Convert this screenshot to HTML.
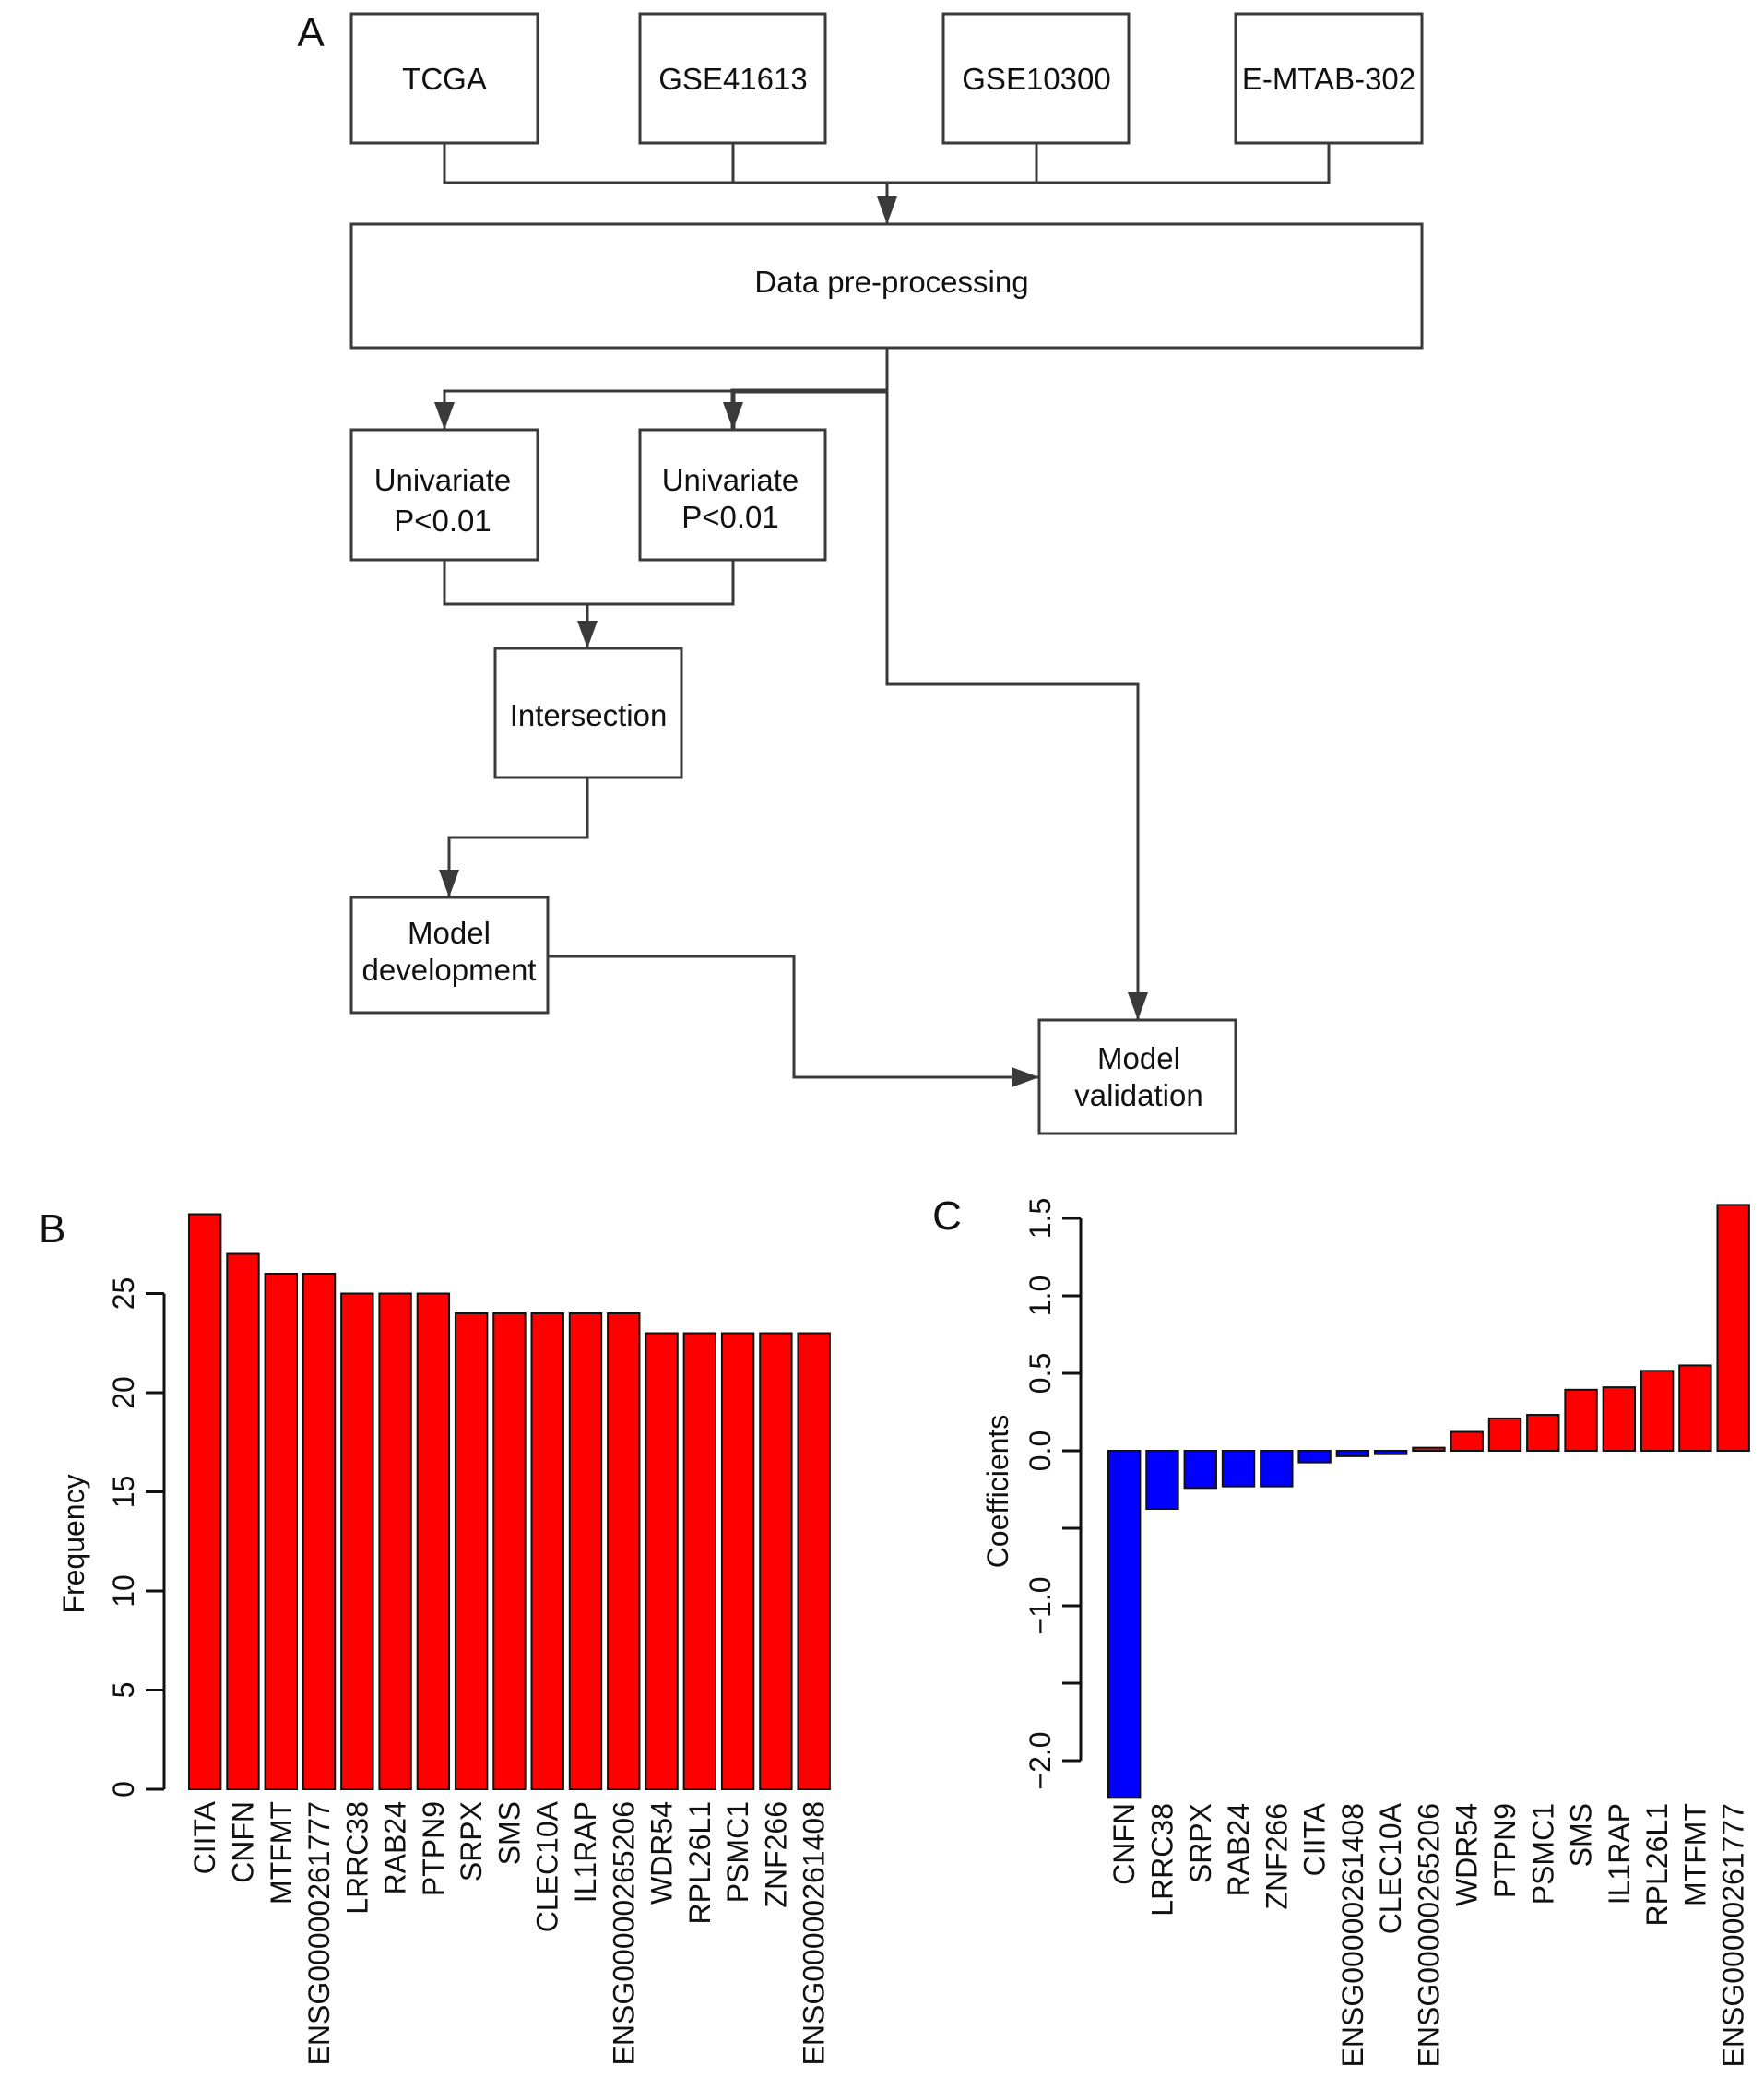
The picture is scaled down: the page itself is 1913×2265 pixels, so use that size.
<!DOCTYPE html>
<html><head><meta charset="utf-8"><title>Figure</title>
<style>
html,body{margin:0;padding:0;background:#fff;}
svg{display:block;font-family:"Liberation Sans",Arial,sans-serif;}
</style></head>
<body>
<svg id="fig" width="1913" height="2265" viewBox="0 0 1913 2265" xmlns="http://www.w3.org/2000/svg">
<defs>
<marker id="arr" viewBox="0 0 10 10" refX="10" refY="5" markerWidth="30" markerHeight="22" markerUnits="userSpaceOnUse" orient="auto" preserveAspectRatio="none">
<path d="M0,0 L10,5 L0,10 z" fill="#3a3a3a"/>
</marker>
</defs>
<g id="flow" stroke="#3a3a3a" stroke-width="3" fill="none">
<text x="337" y="50" font-size="44" fill="#111" stroke="none" text-anchor="middle">A</text>
<rect x="381" y="15" width="202" height="140"/>
<rect x="694" y="15" width="201" height="140"/>
<rect x="1023" y="15" width="201" height="140"/>
<rect x="1340" y="15" width="202" height="140"/>
<rect x="381" y="243" width="1161" height="134"/>
<rect x="381" y="466" width="202" height="141"/>
<rect x="694" y="466" width="201" height="141"/>
<rect x="537" y="703" width="202" height="140"/>
<rect x="381" y="973" width="213" height="125"/>
<rect x="1127" y="1106" width="213" height="123"/>
<path d="M482,155 V198 H1441 V155 M795,155 V198 M1124,155 V198"/>
<path d="M962,198 V243" marker-end="url(#arr)"/>
<path d="M962,377 V742 H1234 V1106" marker-end="url(#arr)"/>
<path d="M962,424 H482 V466" marker-end="url(#arr)"/>
<path d="M962,424 H795 V466" stroke-width="5" marker-end="url(#arr)"/>
<path d="M482,607 V655 H795 V607"/>
<path d="M637,655 V703" marker-end="url(#arr)"/>
<path d="M637,843 V908 H487 V973" marker-end="url(#arr)"/>
<path d="M594,1037 H861 V1168 H1127" marker-end="url(#arr)"/>
<g fill="#111" stroke="none" font-size="33" text-anchor="middle">
<text x="482" y="97">TCGA</text>
<text x="795" y="97">GSE41613</text>
<text x="1124" y="97">GSE10300</text>
<text x="1441" y="97">E-MTAB-302</text>
<text x="967" y="317">Data pre-processing</text>
<text x="480" y="532">Univariate</text>
<text x="480" y="576">P&lt;0.01</text>
<text x="792" y="532">Univariate</text>
<text x="792" y="572">P&lt;0.01</text>
<text x="638" y="787">Intersection</text>
<text x="487" y="1023">Model</text>
<text x="487" y="1063">development</text>
<text x="1235" y="1159">Model</text>
<text x="1235" y="1199">validation</text>
</g>
</g>
<g id="chartB"></g>
<g id="chartC"></g>
</svg>
<script>
const bCategories = ["CIITA","CNFN","MTFMT","ENSG00000261777","LRRC38","RAB24","PTPN9","SRPX","SMS","CLEC10A","IL1RAP","ENSG00000265206","WDR54","RPL26L1","PSMC1","ZNF266","ENSG00000261408"];
const bValues = [29,27,26,26,25,25,25,24,24,24,24,24,23,23,23,23,23];
const bTicks = [0,5,10,15,20,25];
const bTickLabels = ["0","5","10","15","20","25"];

const cCategories = ["CNFN","LRRC38","SRPX","RAB24","ZNF266","CIITA","ENSG00000261408","CLEC10A","ENSG00000265206","WDR54","PTPN9","PSMC1","SMS","IL1RAP","RPL26L1","MTFMT","ENSG00000261777"];
const cValues = [-2.24,-0.375,-0.24,-0.23,-0.23,-0.075,-0.035,-0.022,0.02,0.122,0.209,0.232,0.394,0.41,0.516,0.551,1.587];
const cTicks = [1.5,1.0,0.5,0.0,-0.5,-1.0,-1.5,-2.0];
const cTickLabels = ["1.5","1.0","0.5","0.0","","\u22121.0","","\u22122.0"];

const NS = "http://www.w3.org/2000/svg";
function mk(tag, attrs, parent){
  const e = document.createElementNS(NS, tag);
  for (const k in attrs) e.setAttribute(k, attrs[k]);
  parent.appendChild(e);
  return e;
}

// Chart B
(function(){
  const g = document.getElementById('chartB');
  const y = v => 1940 - v * 21.5;
  const unit = 34.4, x0 = 205 - 0.2*unit;
  const xL = i => x0 + unit*(0.2 + i*1.2);
  const lbl = mk('text', {x:42, y:1347, 'font-size':44, fill:'#111'}, g);
  
  
  lbl.textContent = 'B';
  const ax = mk('line', {x1:178, x2:178, y1:y(0), y2:y(25), stroke:'#111', 'stroke-width':3}, g);
  
  
  bTicks.forEach((t,i)=>{
    const tk = mk('line', {x1:158, x2:178, y1:y(t), y2:y(t), stroke:'#111', 'stroke-width':3}, g);
    
    
    const tl = mk('text', {x:0, y:0, 'font-size':32, fill:'#111', 'text-anchor':'middle', transform:'translate(145,'+y(t)+') rotate(-90)'}, g);
    
    
    tl.textContent = bTickLabels[i];
  });
  const yt = mk('text', {x:0, y:0, 'font-size':32, fill:'#111', 'text-anchor':'middle', transform:'translate(91,1674) rotate(-90)'}, g);
  
  
  yt.textContent = 'Frequency';
  bValues.forEach((v,i)=>{
    const r = mk('rect', {x:xL(i), y:y(v), width:unit, height:y(0)-y(v), fill:'#ff0000', stroke:'#111', 'stroke-width':2}, g);
    
    
    const t = mk('text', {x:0, y:0, 'font-size':32, fill:'#111', 'text-anchor':'end', transform:'translate('+(xL(i)+unit/2+11)+',1953) rotate(-90)'}, g);
    
    
    t.textContent = bCategories[i];
  });
})();

// Chart C
(function(){
  const g = document.getElementById('chartC');
  const y = v => 1573 - v * 168;
  const unit = 34.4, x0 = 1202 - 0.2*unit;
  const xL = i => x0 + unit*(0.2 + i*1.2);
  const lbl = mk('text', {x:1027, y:1333, 'font-size':44, fill:'#111', 'text-anchor':'middle'}, g);
  
  
  lbl.textContent = 'C';
  const ax = mk('line', {x1:1172, x2:1172, y1:y(-2.0), y2:y(1.5), stroke:'#111', 'stroke-width':3}, g);
  
  
  cTicks.forEach((t,i)=>{
    const tk = mk('line', {x1:1152, x2:1172, y1:y(t), y2:y(t), stroke:'#111', 'stroke-width':3}, g);
    
    
    const tl = mk('text', {x:0, y:0, 'font-size':32, fill:'#111', 'text-anchor':'middle', transform:'translate(1139,'+y(t)+') rotate(-90)'}, g);
    
    
    tl.textContent = cTickLabels[i];
  });
  const yt = mk('text', {x:0, y:0, 'font-size':32, fill:'#111', 'text-anchor':'middle', transform:'translate(1093,1617) rotate(-90)'}, g);
  
  
  yt.textContent = 'Coefficients';
  cValues.forEach((v,i)=>{
    const top = Math.min(y(v), y(0)), h = Math.abs(y(v)-y(0));
    const r = mk('rect', {x:xL(i), y:top, width:unit, height:h, fill: v<0 ? '#0000ff' : '#ff0000', stroke:'#111', 'stroke-width':2}, g);
    
    
    const t = mk('text', {x:0, y:0, 'font-size':32, fill:'#111', 'text-anchor':'end', transform:'translate('+(xL(i)+unit/2+11)+',1955) rotate(-90)'}, g);
    
    
    t.textContent = cCategories[i];
  });
})();
</script>
</body></html>
